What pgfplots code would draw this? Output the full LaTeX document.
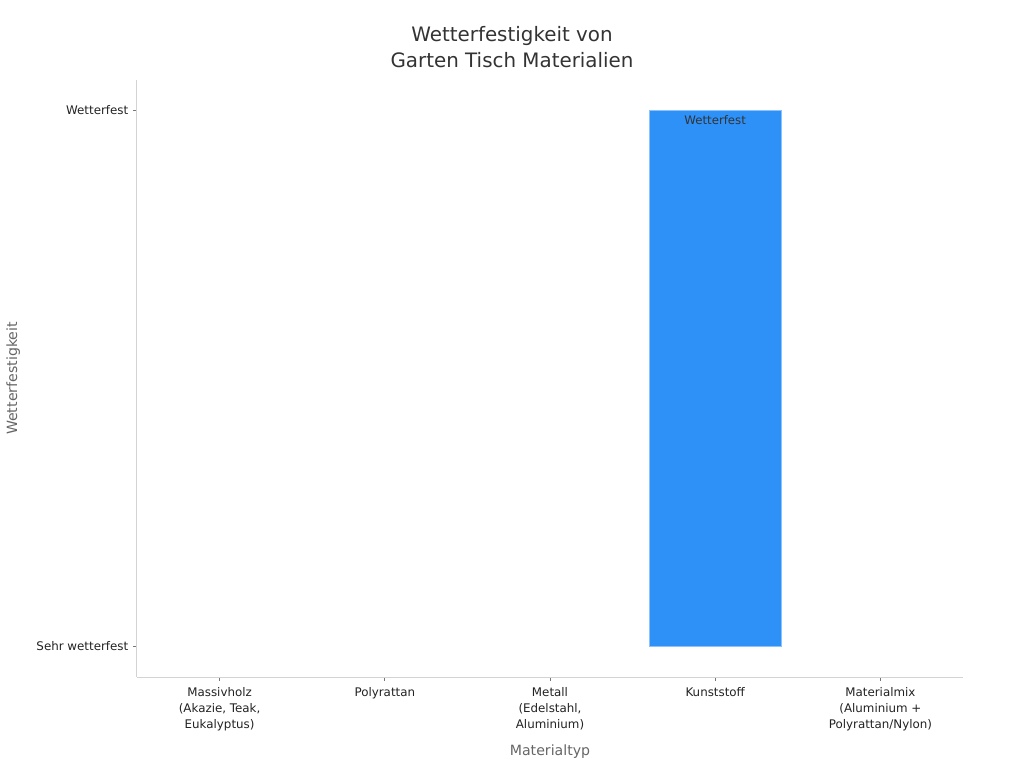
\documentclass[border=0pt]{standalone}
\usepackage{pgfplots}
\pgfplotsset{compat=1.18}
\usepackage{fontspec}
\setmainfont{DejaVu Sans}

\definecolor{barblue}{HTML}{2E91F8}
\definecolor{baredge}{HTML}{8CC2F8}
\definecolor{spine}{HTML}{D3D3D3}
\definecolor{tickmark}{HTML}{777777}
\definecolor{titlegray}{HTML}{333333}
\definecolor{labelgray}{HTML}{666666}
\definecolor{tickgray}{HTML}{222222}

\begin{document}
\begin{tikzpicture}
  \path[use as bounding box] (0,0) rectangle (768pt,576pt);
  \begin{axis}[
    at={(102.75pt,68.25pt)}, anchor=south west,
    scale only axis,
    width=619.5pt, height=447.75pt,
    xmin=-0.5, xmax=4.5,
    ymin=-0.058, ymax=1.056,
    axis x line*=bottom, axis y line*=left,
    axis line style={spine, line width=0.75pt},
    tick align=outside,
    major tick length=3pt,
    tick style={tickmark, line width=0.6pt},
    xtick={0,1,2,3,4},
    xticklabels={{Massivholz\\(Akazie, Teak,\\Eukalyptus)}, Polyrattan,
      {Metall\\(Edelstahl,\\Aluminium)}, Kunststoff,
      {Materialmix\\(Aluminium +\\Polyrattan/Nylon)}},
    xticklabel style={align=center, font=\fontsize{8.9pt}{12pt}\selectfont,
      text=tickgray, yshift=-1.5pt},
    ytick={0,1},
    yticklabels={Sehr wetterfest, Wetterfest},
    yticklabel style={font=\fontsize{8.9pt}{12pt}\selectfont, text=tickgray},
    xlabel={Materialtyp},
    ylabel={Wetterfestigkeit},
    every axis x label/.style={at={(axis description cs:0.5,-0.1255)},
      anchor=center, font=\fontsize{10.6pt}{13pt}\selectfont, text=labelgray},
    every axis y label/.style={at={(axis description cs:-0.150,0.5)},
      anchor=center, rotate=90, font=\fontsize{10.6pt}{13pt}\selectfont, text=labelgray},
    title={Wetterfestigkeit von\\Garten Tisch Materialien},
    title style={at={(axis description cs:0.454,1.042)}, anchor=center,
      align=center, font=\fontsize{14.9pt}{19.5pt}\selectfont, text=titlegray},
    ybar, bar width=0.8, bar shift=0pt,
    point meta=explicit symbolic,
    nodes near coords,
    every node near coord/.style={anchor=north, yshift=-0.5pt,
      font=\fontsize{8.8pt}{10pt}\selectfont, text=titlegray},
  ]
    \addplot[fill=barblue, draw=baredge, line width=0.6pt] coordinates {
      (3,1) [Wetterfest]
    };
  \end{axis}
\end{tikzpicture}
\end{document}
